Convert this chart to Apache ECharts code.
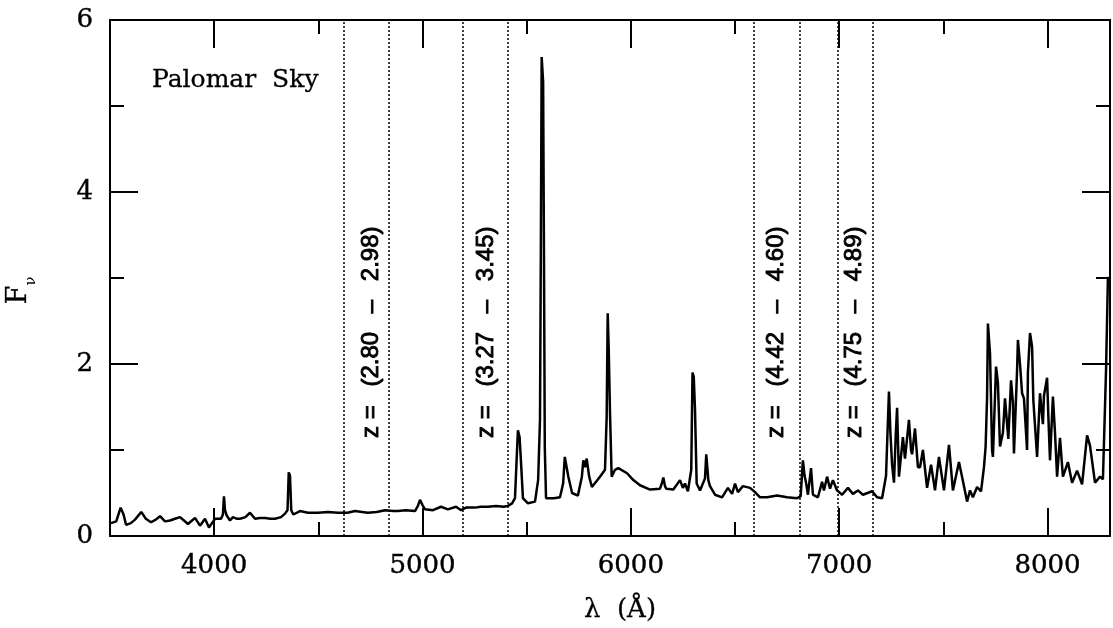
<!DOCTYPE html>
<html>
<head>
<meta charset="utf-8">
<title>Palomar Sky</title>
<script src="https://cdn.jsdelivr.net/npm/echarts@6.0.0/dist/echarts.min.js"></script>
<style>
  html, body { margin: 0; padding: 0; background: #fff; }
  #main { width: 1113px; height: 628px; }
</style>
</head>
<body>
<div id="main"></div>
<script>
// wavelength (Å) and flux
const wave = [
  3505, 3530, 3551, 3565, 3577, 3600, 3620, 3650, 3672, 3697,
  3720, 3740, 3764, 3788, 3812, 3836, 3855, 3874, 3908, 3932,
  3956, 3975, 3990, 4004, 4033, 4042, 4047, 4052, 4060, 4076,
  4090, 4110, 4124, 4150, 4172, 4196, 4220, 4244, 4270, 4292,
  4321, 4340, 4352, 4358, 4364, 4370, 4380, 4412, 4450, 4498,
  4546, 4594, 4640, 4676, 4710, 4738, 4780, 4820, 4860, 4882,
  4920, 4964, 4978, 4988, 5000, 5012, 5050, 5089, 5122, 5161,
  5185, 5209, 5252, 5280, 5314, 5353, 5390, 5410, 5430, 5444,
  5452, 5458, 5466, 5473, 5482, 5506, 5540, 5555, 5564, 5568,
  5572, 5577, 5579, 5583, 5587, 5593, 5630, 5660, 5675, 5683,
  5690, 5700, 5718, 5746, 5765, 5772, 5780, 5788, 5800, 5813,
  5852, 5876, 5884, 5889, 5894, 5900, 5908, 5924, 5940, 5982,
  6012, 6044, 6092, 6140, 6150, 6156, 6164, 6170, 6204, 6236,
  6250, 6260, 6274, 6290, 6296, 6302, 6308, 6316, 6332, 6356,
  6362, 6366, 6372, 6380, 6404, 6438, 6466, 6486, 6500, 6514,
  6538, 6572, 6596, 6620, 6654, 6702, 6750, 6798, 6815, 6826,
  6834, 6841, 6850, 6865, 6874, 6898, 6918, 6927, 6942, 6956,
  6970, 6990, 7014, 7042, 7066, 7090, 7114, 7158, 7182, 7206,
  7225, 7232, 7239, 7246, 7254, 7263, 7272, 7278, 7287, 7306,
  7316, 7335, 7345, 7350, 7364, 7378, 7388, 7402, 7422, 7441,
  7460, 7479, 7503, 7527, 7546, 7575, 7594, 7614, 7628, 7642,
  7662, 7681, 7695, 7703, 7710, 7714, 7724, 7734, 7738, 7753,
  7762, 7772, 7786, 7796, 7806, 7812, 7825, 7834, 7839, 7854,
  7858, 7868, 7878, 7887, 7902, 7906, 7916, 7926, 7932, 7950,
  7964, 7978, 7983, 7998, 8004, 8012, 8026, 8036, 8046, 8060,
  8074, 8098, 8118, 8142, 8166, 8190, 8204, 8228, 8252, 8266,
  8281, 8290, 8300
];
const flux = [
  0.15, 0.17, 0.33, 0.25, 0.13, 0.15, 0.19, 0.28, 0.20, 0.16,
  0.19, 0.23, 0.17, 0.18, 0.20, 0.22, 0.18, 0.14, 0.21, 0.12,
  0.20, 0.10, 0.15, 0.20, 0.20, 0.25, 0.46, 0.30, 0.24, 0.18,
  0.22, 0.20, 0.20, 0.22, 0.27, 0.20, 0.21, 0.21, 0.20, 0.20,
  0.22, 0.26, 0.30, 0.74, 0.70, 0.30, 0.25, 0.29, 0.27, 0.27,
  0.28, 0.27, 0.27, 0.29, 0.28, 0.27, 0.28, 0.30, 0.29, 0.29,
  0.30, 0.29, 0.35, 0.42, 0.36, 0.31, 0.30, 0.34, 0.31, 0.34,
  0.30, 0.33, 0.33, 0.34, 0.34, 0.35, 0.34, 0.35, 0.38, 0.44,
  0.90, 1.23, 1.15, 0.85, 0.44, 0.38, 0.40, 0.65, 1.35, 3.30,
  5.57, 5.57, 5.28, 3.30, 1.03, 0.44, 0.44, 0.45, 0.61, 0.92,
  0.92, 0.69, 0.50, 0.47, 0.69, 0.88, 0.80, 0.90, 0.69, 0.57,
  0.69, 0.77, 1.38, 2.59, 2.16, 1.43, 0.69, 0.77, 0.79, 0.73,
  0.65, 0.59, 0.54, 0.55, 0.62, 0.68, 0.58, 0.55, 0.54, 0.65,
  0.56, 0.61, 0.52, 0.77, 1.90, 1.85, 1.47, 0.61, 0.53, 0.67,
  0.95, 0.97, 0.65, 0.58, 0.48, 0.45, 0.56, 0.49, 0.61, 0.51,
  0.58, 0.56, 0.51, 0.45, 0.45, 0.47, 0.45, 0.44, 0.46, 0.88,
  0.70, 0.62, 0.48, 0.79, 0.48, 0.45, 0.63, 0.53, 0.69, 0.55,
  0.65, 0.53, 0.48, 0.56, 0.49, 0.53, 0.48, 0.52, 0.45, 0.44,
  0.70, 1.20, 1.68, 1.20, 0.83, 0.62, 1.20, 1.49, 0.69, 1.15,
  0.90, 1.35, 1.00, 0.95, 1.25, 0.80, 0.80, 1.00, 0.56, 0.83,
  0.53, 0.92, 0.53, 1.06, 0.53, 0.86, 0.64, 0.40, 0.53, 0.45,
  0.57, 0.52, 0.80, 1.04, 1.62, 2.47, 2.13, 1.00, 0.92, 1.97,
  1.78, 1.04, 1.20, 1.60, 1.30, 1.13, 1.81, 1.55, 0.96, 1.93,
  2.28, 2.00, 1.66, 1.60, 1.00, 1.90, 2.36, 2.20, 1.58, 0.92,
  1.66, 1.30, 1.63, 1.84, 1.40, 0.88, 1.62, 1.20, 0.69, 1.14,
  0.69, 0.86, 0.62, 0.76, 0.60, 1.17, 1.05, 0.62, 0.69, 0.66,
  1.93, 3.00, 3.00
];

// edges of the redshift windows (Å) and their labels
const zEdges = [4621, 4840, 5192, 5411, 6591, 6810, 6992, 7162];
const zLabels = [
  'z = \u2002(2.80 \u2002\u2013 \u20022.98)',
  'z = \u2002(3.27 \u2002\u2013 \u20023.45)',
  'z = \u2002(4.42 \u2002\u2013 \u20024.60)',
  'z = \u2002(4.75 \u2002\u2013 \u20024.89)'
];
const zLabelX = [4755, 5308, 6700, 7072];
const zLabelY = 2.37;

const xMajor = [4000, 5000, 6000, 7000, 8000];
const xMinor = [4500, 5500, 6500, 7500];

const ink = '#000';
const serif = 'DejaVu Serif';

let myChart = echarts.init(document.getElementById('main'));

// x axes: major / minor ticks on bottom and top
function xAxisPart(position, ticks, len, showLine, showLabel) {
  return {
    type: 'value', position: position, min: 3500, max: 8300,
    axisLine: { show: showLine, onZero: false, lineStyle: { color: ink, width: 2 } },
    axisTick: { show: true, inside: true, length: len, customValues: ticks, lineStyle: { color: ink, width: 2 } },
    axisLabel: {
      show: showLabel, customValues: ticks, margin: 17, formatter: v => String(v),
      color: ink, fontFamily: serif, fontSize: 26, lineHeight: 26,
      textBorderColor: ink, textBorderWidth: 0.4
    },
    splitLine: { show: false }
  };
}

function yAxisPart(position, showLabel) {
  return {
    type: 'value', position: position, min: 0, max: 6, interval: 2,
    axisLine: { show: true, onZero: false, lineStyle: { color: ink, width: 2 } },
    axisTick: { show: true, inside: true, length: 28, lineStyle: { color: ink, width: 2 } },
    minorTick: { show: true, splitNumber: 2, length: 14, lineStyle: { color: ink, width: 2 } },
    axisLabel: {
      show: showLabel, margin: 17, color: ink, fontFamily: serif, fontSize: 26, lineHeight: 26,
      textBorderColor: ink, textBorderWidth: 0.4
    },
    splitLine: { show: false },
    minorSplitLine: { show: false }
  };
}

let option = {
  animation: false,
  backgroundColor: '#fff',
  grid: { left: 110, right: 3, top: 20, bottom: 92, containLabel: false },
  xAxis: [
    xAxisPart('bottom', xMajor, 28, true, true),
    xAxisPart('bottom', xMinor, 14, false, false),
    xAxisPart('top', xMajor, 28, true, false),
    xAxisPart('top', xMinor, 14, false, false)
  ],
  yAxis: [
    yAxisPart('left', true),
    yAxisPart('right', false)
  ],
  graphic: [
    { type: 'text', x: 152, y: 80, style: { text: 'Palomar  Sky', fill: ink, font: '25px "DejaVu Serif"', verticalAlign: 'middle', stroke: ink, lineWidth: 0.3 } },
    { type: 'text', x: 620, y: 610, style: { text: 'λ  (Å)', fill: ink, font: '26px "DejaVu Serif"', align: 'center', verticalAlign: 'middle', stroke: ink, lineWidth: 0.3 } },
    { type: 'text', x: 19, y: 295, rotation: Math.PI / 2, style: { text: 'F', fill: ink, font: '27px "DejaVu Serif"', align: 'center', verticalAlign: 'middle', stroke: ink, lineWidth: 0.3 } },
    { type: 'text', x: 31, y: 281, rotation: Math.PI / 2, style: { text: 'ν', fill: ink, font: '15px "DejaVu Serif"', align: 'center', verticalAlign: 'middle' } }
  ],
  series: [
    {
      name: 'sky',
      type: 'line',
      xAxisIndex: 0, yAxisIndex: 0,
      data: wave.map((w, i) => [w, flux[i]]),
      symbol: 'none',
      lineStyle: { color: ink, width: 2.5 },
      markLine: {
        silent: true,
        symbol: ['none', 'none'],
        label: { show: false },
        lineStyle: { color: ink, width: 1.5, type: [2, 2] },
        data: zEdges.map(v => ({ xAxis: v }))
      }
    },
    {
      // redshift labels, rotated
      name: 'windows',
      type: 'scatter',
      xAxisIndex: 0, yAxisIndex: 0,
      symbolSize: 1,
      itemStyle: { color: 'transparent' },
      data: zLabelX.map(x => [x, zLabelY]),
      label: {
        show: true, position: 'inside', rotate: 90, opacity: 1,
        formatter: p => zLabels[p.dataIndex],
        color: ink, fontFamily: 'Liberation Sans', fontSize: 24,
        textBorderColor: ink, textBorderWidth: 0.9
      }
    }
  ]
};
myChart.setOption(option);
</script>
</body>
</html>
